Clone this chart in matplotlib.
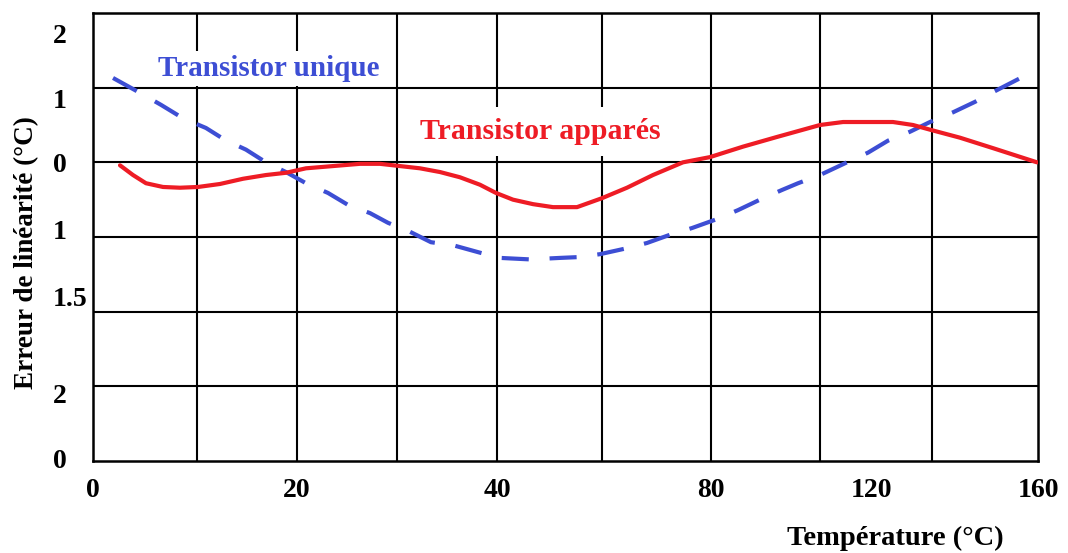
import matplotlib
matplotlib.use("Agg")
import matplotlib.pyplot as plt

plt.rcParams['font.family'] = ['Liberation Serif', 'DejaVu Serif']

# horizontal position in chart units (0..160 across the frame)
x_apparies = [4.57, 6.77, 8.97, 11.85, 14.73, 17.78, 21.50, 25.40, 29.29, 32.67,
              36.06, 40.63, 45.20, 48.59, 51.97, 55.36, 58.75, 62.13, 65.52, 68.23,
              71.11, 74.50, 77.88, 81.95, 86.18, 90.41, 94.81, 99.89, 104.46, 110.05,
              115.81, 123.09, 126.99, 135.45, 138.84, 142.05, 146.79, 152.38, 159.83]
y_apparies = [-0.04, -0.17, -0.28, -0.33, -0.34, -0.33, -0.29, -0.22, -0.17, -0.14,
              -0.08, -0.05, -0.02, -0.02, -0.05, -0.08, -0.13, -0.20, -0.30, -0.41,
              -0.50, -0.56, -0.60, -0.60, -0.48, -0.34, -0.17, 0.00, 0.07, 0.21,
              0.34, 0.50, 0.54, 0.54, 0.50, 0.43, 0.33, 0.19, 0.00]

x_unique = [3.39, 7.96, 11.51, 15.24, 19.13, 22.35, 25.90, 29.29, 32.67, 36.06,
            39.79, 43.17, 46.90, 49.95, 53.67, 57.23, 60.95, 65.52, 68.91, 73.99,
            79.07, 81.95, 85.84, 90.41, 93.80, 97.69, 101.42, 105.65, 109.21, 112.93,
            116.66, 119.37, 123.09, 127.66, 131.22, 134.60, 138.33, 141.71, 145.61,
            149.33, 152.38, 157.29]
y_unique = [1.13, 0.93, 0.77, 0.59, 0.46, 0.30, 0.17, 0.00, -0.13, -0.28,
            -0.41, -0.57, -0.68, -0.81, -0.93, -1.07, -1.11, -1.21, -1.28, -1.30,
            -1.28, -1.27, -1.23, -1.15, -1.08, -0.97, -0.88, -0.76, -0.64, -0.50,
            -0.37, -0.28, -0.17, 0.00, 0.13, 0.29, 0.41, 0.54, 0.67,
            0.81, 0.94, 1.14]

grid_x = [17.6, 34.5, 51.5, 68.4, 86.2, 104.6, 123.1, 142.0]
grid_y = [-3, -2, -1, 0, 1]

xtick_pos = [0, 34.5, 68.4, 104.6, 131.8, 160]
xtick_labels = ['0', '20', '40', '80', '120', '160']
ytick_pos = [1.73, 0.86, 0.0, -0.9, -1.8, -3.09, -3.96]
ytick_labels = ['2', '1', '0', '1', '1.5', '2', '0']

blue = '#3d4ed4'
red = '#ee1c25'

fig = plt.figure(figsize=(10.68, 5.53), dpi=100)
ax = fig.add_axes([93 / 1068, 92 / 553, 945 / 1068, 448 / 553])
ax.set_xlim(0, 160)
ax.set_ylim(-4, 2)

for gx in grid_x:
    ax.axvline(gx, color='black', lw=1.5, zorder=1)
for gy in grid_y:
    ax.axhline(gy, color='black', lw=1.5, zorder=1)
for s in ax.spines.values():
    s.set_linewidth(1.8)

ax.plot(x_unique, y_unique, color=blue, lw=3.0, dashes=(6.5, 5.0),
        dash_capstyle='butt', zorder=3)
ax.plot(x_apparies, y_apparies, color=red, lw=3.0, solid_capstyle='round',
        solid_joinstyle='round', zorder=4)

ax.text(11.0, 1.26, 'Transistor unique', color=blue, fontsize=21, fontweight='bold',
        va='center', ha='left', zorder=5,
        bbox=dict(facecolor='white', edgecolor='none', pad=3))
ax.text(55.4, 0.41, 'Transistor apparés', color=red, fontsize=21.5, fontweight='bold',
        va='center', ha='left', zorder=5,
        bbox=dict(facecolor='white', edgecolor='none', pad=8))

ax.set_xticks(xtick_pos, xtick_labels)
ax.set_yticks(ytick_pos, ytick_labels)
ax.tick_params(axis='x', length=0, pad=12, labelsize=20)
ax.tick_params(axis='y', length=0, pad=29, labelsize=20)
for lab in ax.get_xticklabels() + ax.get_yticklabels():
    lab.set_fontweight('bold')
for lab in ax.get_yticklabels():
    lab.set_horizontalalignment('left')

fig.text(895 / 1068, 1 - 538 / 553, 'Température (°C)', fontsize=20.5,
         fontweight='bold', ha='center', va='center')
fig.text(27 / 1068, 1 - 253 / 553, 'Erreur de linéarité (°C)', fontsize=19.5,
         fontweight='bold', ha='center', va='center', rotation=90)

fig.savefig('out.png', dpi=100)
